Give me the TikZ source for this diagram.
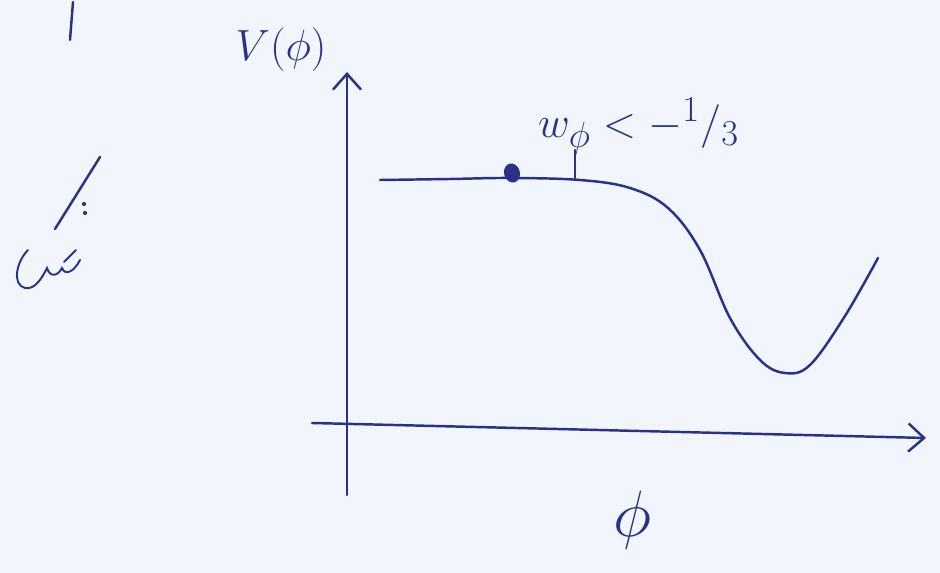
\documentclass[tikz,border=0pt]{standalone}
\usepackage{tikz}
\usetikzlibrary{arrows.meta,positioning,calc,shapes.geometric}
\definecolor{ink}{RGB}{45,48,135}
\definecolor{paper}{RGB}{241,246,252}
\tikzset{
    pen/.style={draw=ink, line width=1.4pt, line cap=round},
    axis/.style={pen, -{Straight Barb[length=9pt,width=16pt]}},
    hand/.style={text=ink, font=\fontsize{28}{28}\selectfont}
}
\begin{document}
\begin{tikzpicture}[x=0.02cm,y=-0.02cm]
% paper
\fill[paper] (0,0) rectangle (940,573);
\useasboundingbox (0,0) rectangle (940,573);
% axes
\coordinate (ybot) at (347,495);
\coordinate (ytop) at (347,72);
\coordinate (xleft) at (312,423);
\coordinate (xright) at (926,438);
\draw[axis] (ybot) -- (ytop);
\draw[axis] (xleft) -- (xright);
% labels
\node[hand] (vlab) at (281,50) {$V(\phi)$};
\node[hand, scale=1.5] (philab) at (632,520) {$\phi$};
\node[hand, anchor=west] (wlab) at (532,126) {$w_\phi < -{}^{1}/{}_{3}$};
% potential
\draw[pen] plot[smooth, tension=0.6] coordinates {(380,180) (450,179) (510,178) (580,180) (630,188) (668,208) (700,250) (730,318) (760,360) (785,373) (810,365) (845,316) (878,258)};
\node[fill=ink, ellipse, inner sep=0pt, minimum width=9pt, minimum height=11pt, rotate=15] (field) at (512,173) {};
\draw[pen] (575,178) -- (575,150);
% stray marks
\draw[pen] (73,2) -- (70,40);
\draw[pen] (100,157) -- (55,229);
\fill[ink] (84,204) circle (1.2pt) (85,213) circle (1.2pt);
\draw[pen, line width=1.1pt] (28,250) .. controls (16,262) and (12,285) .. (25,288)
    .. controls (35,290) and (42,278) .. (47,268)
    .. controls (50,278) and (58,276) .. (62,268)
    .. controls (65,276) and (74,272) .. (80,260);
\draw[pen, line width=1.1pt] (64,262) -- (76,250);
\end{tikzpicture}
\end{document}
